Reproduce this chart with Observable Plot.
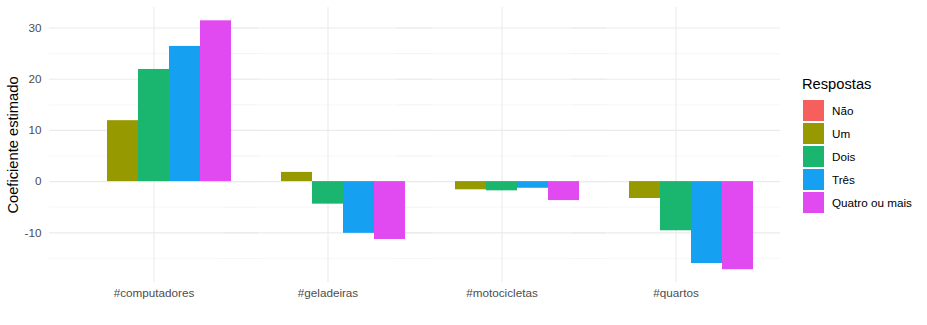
<!DOCTYPE html>
<html><head><meta charset="utf-8">
<script src="https://cdn.jsdelivr.net/npm/d3@7"></script>
<script src="https://cdn.jsdelivr.net/npm/@observablehq/plot@0.6"></script>
<style>
body{margin:0;background:#fff;font-family:"Liberation Sans",Arial,Helvetica,sans-serif;}
#wrap{position:relative;width:927px;height:325px;overflow:hidden;}
#legend{position:absolute;left:802px;top:76px;}
#legend .title{font-size:14.7px;color:#000;line-height:17px;margin-bottom:6px;}
#legend .row{display:flex;align-items:center;height:23px;}
#legend .key{width:21px;height:21px;margin-left:1px;margin-right:8px;}
#legend .lab{font-size:11.7px;color:#000;}
</style></head><body><div id="wrap"></div>
<script>
const categories = ["#computadores", "#geladeiras", "#motocicletas", "#quartos"];
const responses = ["Não", "Um", "Dois", "Três", "Quatro ou mais"];
const colors = ["#F5605D", "#979900", "#1AB56E", "#16A0F1", "#E04AF0"];
const valNao = [0, 0, 0, 0];
const valUm = [11.9, 1.8, -1.6, -3.3];
const valDois = [21.9, -4.4, -1.8, -9.6];
const valTres = [26.4, -10.1, -1.3, -16.0];
const valQuatro = [31.4, -11.3, -3.7, -17.2];
const majorTicks = [-10, 0, 10, 20, 30];
const minorTicks = [-15, -5, 5, 15, 25];
const yTitle = "Coeficiente estimado";
const legendTitle = "Respostas";

const series = [valNao, valUm, valDois, valTres, valQuatro];
const data = [];
responses.forEach((r, i) => categories.forEach((c, j) => data.push({category: c, response: r, value: series[i][j]})));

const W = 927, H = 325, ML = 49, MR = 147, MT = 7, MB = 43;
const padIn = 0.1, padOut = 0.15;
const step = (W - ML - MR) / (categories.length - padIn + 2 * padOut);
const outer = padOut * step; // distance from panel edge to first facet

const gridCombos = (ticks) => categories.flatMap(c => ticks.map(t => ({category: c, y: t})));
const first = () => categories[0];

const font = '"Liberation Sans", Arial, Helvetica, sans-serif';
const plot = Plot.plot({
  width: W, height: H,
  marginLeft: ML, marginRight: MR, marginTop: MT, marginBottom: MB,
  style: {fontFamily: font, background: "white", overflow: "visible"},
  fx: {domain: categories, paddingInner: padIn, paddingOuter: padOut, label: null, axis: null},
  x: {domain: responses, padding: 0, axis: null},
  y: {domain: [-19.7, 34.0], axis: null},
  color: {domain: responses, range: colors},
  marks: [
    Plot.ruleY(gridCombos(minorTicks), {fx: "category", y: "y", stroke: "#f2f2f2", strokeWidth: 0.6, insetLeft: -outer, insetRight: -outer}),
    Plot.ruleY(gridCombos(majorTicks), {fx: "category", y: "y", stroke: "#ebebeb", strokeWidth: 1.1, insetLeft: -outer, insetRight: -outer}),
    Plot.gridFx({stroke: "#ebebeb", strokeOpacity: 1, strokeWidth: 1.1}),
    Plot.barY(data, {fx: "category", x: "response", y: "value", fill: "response"}),
    Plot.axisFx({anchor: "bottom", tickSize: 0, tickPadding: 6, label: null, fontSize: 11.7, color: "#4d4d4d"}),
    Plot.text(majorTicks, {fx: first, y: d => d, text: d => String(d), frameAnchor: "left", textAnchor: "end", dx: -outer - 8, fontSize: 11.7, fill: "#4d4d4d"}),
    Plot.text([yTitle], {fx: first, text: d => d, frameAnchor: "left", textAnchor: "middle", rotate: -90, dx: -outer - 36, fontSize: 14.7, fill: "#000"})
  ]
});
const wrap = document.getElementById("wrap");
wrap.appendChild(plot);

const legend = document.createElement("div");
legend.id = "legend";
const t = document.createElement("div");
t.className = "title"; t.textContent = legendTitle;
legend.appendChild(t);
responses.forEach((r, i) => {
  const row = document.createElement("div"); row.className = "row";
  const k = document.createElement("div"); k.className = "key"; k.style.background = colors[i];
  const l = document.createElement("div"); l.className = "lab"; l.textContent = r;
  row.appendChild(k); row.appendChild(l); legend.appendChild(row);
});
wrap.appendChild(legend);
</script></body></html>
